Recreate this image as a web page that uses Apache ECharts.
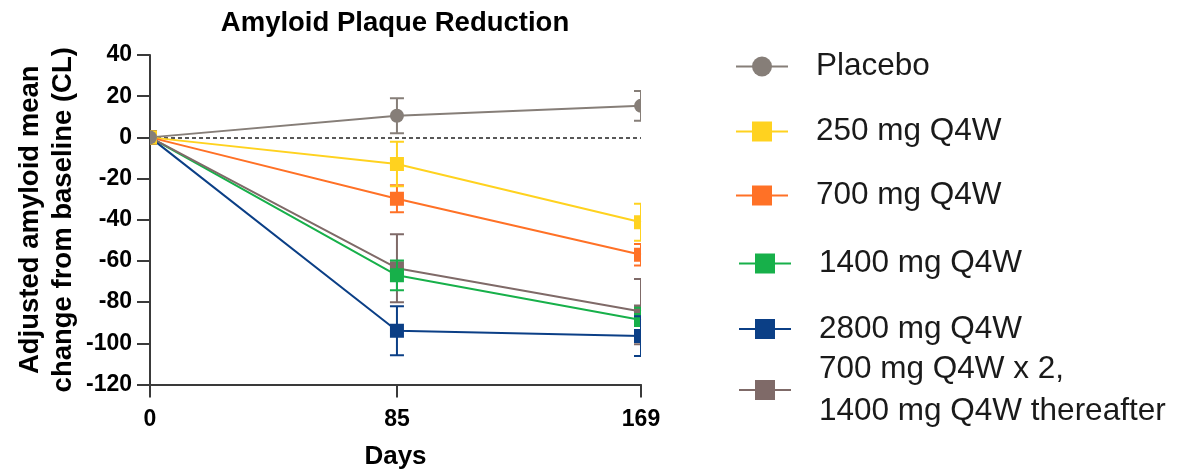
<!DOCTYPE html>
<html>
<head>
<meta charset="utf-8">
<script src="https://cdn.jsdelivr.net/npm/echarts@6/dist/echarts.min.js"></script>
<style>
  html, body { margin: 0; padding: 0; background: #fff; }
  #chart { width: 1179px; height: 469px; }
</style>
</head>
<body>
<div id="chart"></div>
<script>
// Study visits (days)
const days = [0, 85, 169];
const xTickValues = [0, 85, 169];

// Adjusted mean change from baseline (CL) and error-bar half widths
const placeboMean = [0, 10.5, 15.3];
const placeboErr = [0, 8.5, 7.2];
const mg250Mean = [0, -12.9, -41.2];
const mg250Err = [0, 10.8, 9.0];
const mg700Mean = [0, -29.8, -57.0];
const mg700Err = [0, 6.6, 5.2];
const mg1400Mean = [0, -67.0, -88.7];
const mg1400Err = [0, 7.2, 6.0];
const mg2800Mean = [0, -93.9, -96.5];
const mg2800Err = [0, 11.9, 9.7];
const comboMean = [0, -63.5, -84.6];
const comboErr = [0, 16.5, 15.8];

const groupNames = [
  'Placebo',
  '250 mg Q4W',
  '700 mg Q4W',
  '1400 mg Q4W',
  '2800 mg Q4W',
  '700 mg Q4W x 2,\n1400 mg Q4W thereafter'
];

const groups = [
  { name: groupNames[0], mean: placeboMean, err: placeboErr, color: '#867e78', symbol: 'circle', z: 12 },
  { name: groupNames[1], mean: mg250Mean, err: mg250Err, color: '#ffd21f', symbol: 'rect', z: 11 },
  { name: groupNames[2], mean: mg700Mean, err: mg700Err, color: '#ff7126', symbol: 'rect', z: 10 },
  { name: groupNames[3], mean: mg1400Mean, err: mg1400Err, color: '#17b04a', symbol: 'rect', z: 8 },
  { name: groupNames[4], mean: mg2800Mean, err: mg2800Err, color: '#0b3f86', symbol: 'rect', z: 9 },
  { name: groupNames[5], mean: comboMean, err: comboErr, color: '#7f6a68', symbol: 'rect', z: 7 }
];

const FONT = '"Liberation Sans", Arial, sans-serif';
const MARK = 14;
const CAP = 14;

// Legend rows: icon centre y and left edge for each entry
const legendRows = [64.5, 129.5, 193.5, 261.5, 327, 390];
const legendLeft = [735, 735, 735, 738, 738, 738];
const ICON_H = 25;
const LEGEND_LH = 42;

const series = [];
groups.forEach((g, gi) => {
  const pts = days.map((d, i) => [d, g.mean[i], g.err[i]]);
  // connecting line (also supplies the legend icon)
  series.push({
    type: 'line',
    name: g.name,
    data: pts.map(p => [p[0], p[1]]),
    symbol: g.symbol,
    showSymbol: false,
    color: g.color,
    lineStyle: { width: 2, color: g.color },
    z: 2,
    silent: true,
    markLine: gi === 0 ? {
      silent: true,
      symbol: ['none', 'none'],
      label: { show: false },
      lineStyle: { type: [4, 3], color: '#222', width: 1.5 },
      data: [{ yAxis: 0 }],
      z: 1
    } : undefined
  });
  // error bars and markers, clipped to the plotting area
  series.push({
    type: 'custom',
    name: g.name,
    data: pts,
    clip: true,
    z: g.z,
    silent: true,
    encode: { x: 0, y: 1 },
    renderItem: function (params, api) {
      const x = api.value(0), y = api.value(1), e = api.value(2);
      const c = api.coord([x, y]);
      const children = [];
      if (e > 0) {
        const t = api.coord([x, y + e]);
        const b = api.coord([x, y - e]);
        const st = { stroke: g.color, lineWidth: 2 };
        children.push({ type: 'line', shape: { x1: c[0], y1: t[1], x2: c[0], y2: b[1] }, style: st });
        children.push({ type: 'line', shape: { x1: c[0] - CAP / 2, y1: t[1], x2: c[0] + CAP / 2, y2: t[1] }, style: st });
        children.push({ type: 'line', shape: { x1: c[0] - CAP / 2, y1: b[1], x2: c[0] + CAP / 2, y2: b[1] }, style: st });
      }
      if (g.symbol === 'circle') {
        children.push({ type: 'circle', shape: { cx: c[0], cy: c[1], r: MARK / 2 }, style: { fill: g.color } });
      } else {
        children.push({ type: 'rect', shape: { x: c[0] - MARK / 2, y: c[1] - MARK / 2, width: MARK, height: MARK }, style: { fill: g.color } });
      }
      return { type: 'group', children: children };
    }
  });
});

const legends = groups.map((g, i) => {
  const lines = g.name.split('\n').length;
  const half = lines > 1 ? (lines * LEGEND_LH) / 2 : 19;
  return {
    data: [g.name],
    left: legendLeft[i],
    top: legendRows[i] - half,
    orient: 'vertical',
    padding: 0,
    itemWidth: 52,
    itemHeight: ICON_H,
    selectedMode: false,
    textStyle: {
      fontFamily: FONT,
      fontSize: 31.5,
      color: '#1a1a1a',
      lineHeight: LEGEND_LH,
      padding: [0, 0, 0, 23]
    }
  };
});

const chart = echarts.init(document.getElementById('chart'), null, { renderer: 'canvas' });
chart.setOption({
  animation: false,
  backgroundColor: '#ffffff',
  title: {
    text: 'Amyloid Plaque Reduction',
    left: 395,
    textAlign: 'center',
    top: 9,
    padding: 0,
    textStyle: { fontFamily: FONT, fontSize: 27.5, fontWeight: 'bold', color: '#000' }
  },
  legend: legends,
  grid: { left: 150, right: 538, top: 55, bottom: 84.5, containLabel: false, outerBoundsMode: 'none' },
  xAxis: {
    type: 'value',
    min: 0,
    max: 169,
    name: 'Days',
    nameLocation: 'middle',
    nameGap: 59,
    nameTextStyle: { fontFamily: FONT, fontSize: 26, fontWeight: 'bold', color: '#000' },
    axisLine: { show: true, onZero: false, lineStyle: { color: '#3a3a3a', width: 2 } },
    axisTick: { show: true, customValues: xTickValues, length: 13, lineStyle: { color: '#3a3a3a', width: 2 } },
    axisLabel: { customValues: xTickValues, margin: 24, fontFamily: FONT, fontSize: 23, fontWeight: 'bold', color: '#000' },
    splitLine: { show: false }
  },
  yAxis: {
    type: 'value',
    min: -120,
    max: 40,
    interval: 20,
    name: 'Adjusted amyloid mean\nchange from baseline (CL)',
    nameLocation: 'middle',
    nameGap: 70,
    nameTextStyle: { fontFamily: FONT, fontSize: 27.5, fontWeight: 'bold', color: '#000', lineHeight: 33 },
    axisLine: { show: true, onZero: false, lineStyle: { color: '#3a3a3a', width: 2 } },
    axisTick: { show: true, length: 13, lineStyle: { color: '#3a3a3a', width: 2 } },
    axisLabel: { margin: 18, fontFamily: FONT, fontSize: 23, fontWeight: 'bold', color: '#000' },
    splitLine: { show: false }
  },
  series: series
});
</script>
</body>
</html>
